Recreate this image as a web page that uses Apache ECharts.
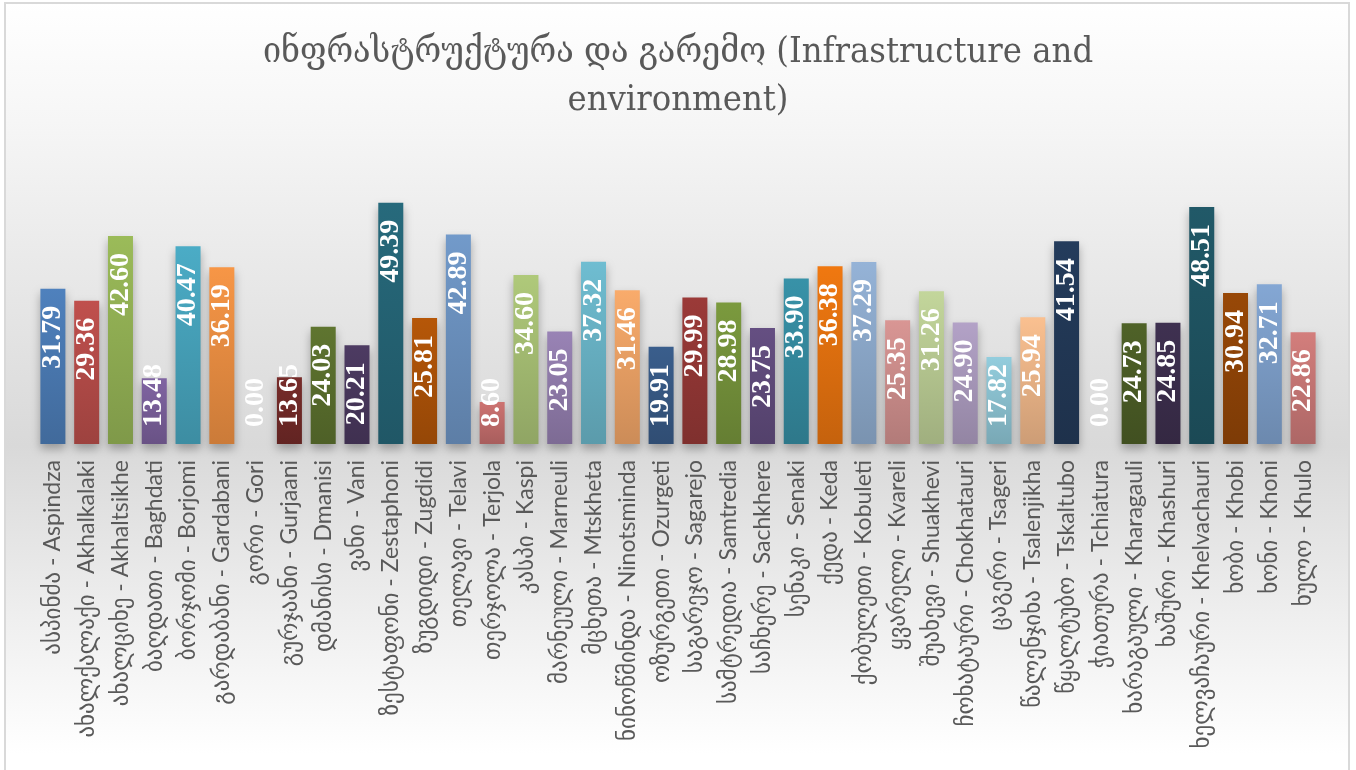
<!DOCTYPE html>
<html>
<head>
	<meta charset="utf-8" />
	<title>ინფრასტრუქტურა და გარემო</title>
	<script type="text/javascript" src="https://cdn.jsdelivr.net/npm/echarts@6/dist/echarts.min.js"></script>
	<style>
		html, body {margin:0;padding:0;background:#fff;}
		#chart {width:1356px;height:770px;}
	</style>
</head>
<body>
	<div id="chart"></div>
	<script>
		// მუნიციპალიტეტები
		var categories = [
			'ასპინძა - Aspindza', 'ახალქალაქი - Akhalkalaki', 'ახალციხე - Akhaltsikhe', 'ბაღდათი - Baghdati',
			'ბორჯომი - Borjomi', 'გარდაბანი - Gardabani', 'გორი - Gori', 'გურჯაანი - Gurjaani',
			'დმანისი - Dmanisi', 'ვანი - Vani', 'ზესტაფონი - Zestaphoni', 'ზუგდიდი - Zugdidi',
			'თელავი - Telavi', 'თერჯოლა - Terjola', 'კასპი - Kaspi', 'მარნეული - Marneuli',
			'მცხეთა - Mtskheta', 'ნინოწმინდა - Ninotsminda', 'ოზურგეთი - Ozurgeti', 'საგარეჯო - Sagarejo',
			'სამტრედია - Samtredia', 'საჩხერე - Sachkhere', 'სენაკი - Senaki', 'ქედა - Keda',
			'ქობულეთი - Kobuleti', 'ყვარელი - Kvareli', 'შუახევი - Shuakhevi', 'ჩოხატაური - Chokhatauri',
			'ცაგერი - Tsageri', 'წალენჯიხა - Tsalenjikha', 'წყალტუბო - Tskaltubo', 'ჭიათურა - Tchiatura',
			'ხარაგაული - Kharagauli', 'ხაშური - Khashuri', 'ხელვაჩაური - Khelvachauri', 'ხობი - Khobi',
			'ხონი - Khoni', 'ხულო - Khulo'
		];

		// ქულები
		var scores = [
			31.79, 29.36, 42.60, 13.48, 40.47, 36.19, 0.00, 13.65,
			24.03, 20.21, 49.39, 25.81, 42.89, 8.60, 34.60, 23.05,
			37.32, 31.46, 19.91, 29.99, 28.98, 23.75, 33.90, 36.38,
			37.29, 25.35, 31.26, 24.90, 17.82, 25.94, 41.54, 0.00,
			24.73, 24.85, 48.51, 30.94, 32.71, 22.86
		];

		// bar colours (vary by point)
		var barColors = [
			'#4F81BD', '#C0504D', '#9BBB59', '#8064A2', '#4BACC6', '#F79646', '#2C4D75', '#772C2A',
			'#5F7530', '#4D3B62', '#276A7C', '#B65708', '#729ACA', '#CD7371', '#AFC97A', '#9983B5',
			'#6FBDD1', '#F9AB6B', '#3A5E8C', '#9B3A38', '#7B9A3E', '#654F82', '#3892A8', '#F07810',
			'#95B3D7', '#D99694', '#C3D69B', '#B3A2C7', '#93CDDD', '#FAC090', '#243C5C', '#4F81BD',
			'#4F6228', '#3F3151', '#215968', '#984807', '#84A7D4', '#D37E7C'
		];

		function shade(hex, f) {
			var n = parseInt(hex.slice(1), 16);
			var r = Math.round(((n >> 16) & 255) * f);
			var g = Math.round(((n >> 8) & 255) * f);
			var b = Math.round((n & 255) * f);
			return 'rgb(' + r + ',' + g + ',' + b + ')';
		}

		var chart = echarts.init(document.getElementById('chart'));

		var seriesData = scores.map(function(v, i) {
			var c = barColors[i];
			var item = {
				value: v,
				itemStyle: {
					color: new echarts.graphic.LinearGradient(0, 0, 0, 1, [
						{offset: 0, color: c},
						{offset: 1, color: shade(c, 0.82)}
					])
				}
			};
			// short bars: label sits on the baseline
			if (v < 20) {
				item.label = {position: 'insideBottom', align: 'left', distance: 17};
			}
			return item;
		});

		var option = {
			animation: false,
			backgroundColor: '#fff',
			graphic: [
				{
					type: 'rect',
					z: -10,
					shape: {x: 5, y: 3, width: 1344, height: 790},
					style: {
						fill: new echarts.graphic.LinearGradient(0, 0, 0, 1, [
							{offset: 0, color: '#ffffff'},
							{offset: 0.15, color: '#f6f6f6'},
							{offset: 0.56, color: '#d9d9d9'},
							{offset: 0.78, color: '#efefef'},
							{offset: 0.95, color: '#ffffff'},
							{offset: 1, color: '#ffffff'}
						]),
						stroke: '#d9d9d9',
						lineWidth: 2
					}
				}
			],
			title: {
				text: 'ინფრასტრუქტურა და გარემო (Infrastructure and\nenvironment)',
				left: 'center',
				top: 24,
				textStyle: {
					fontFamily: '"DejaVu Serif Condensed", "DejaVu Serif", serif',
					fontWeight: 'normal',
					fontSize: 36,
					lineHeight: 48,
					color: '#595959'
				}
			},
			grid: {
				left: 36,
				right: 36,
				top: 151,
				bottom: 326,
				containLabel: false,
				outerBoundsMode: 'none'
			},
			xAxis: {
				type: 'category',
				data: categories,
				axisLine: {show: false},
				axisTick: {show: false},
				axisLabel: {
					rotate: 90,
					interval: 0,
					margin: 16,
					color: '#595959',
					fontSize: 23,
					fontFamily: 'Lato, "DejaVu Sans", sans-serif'
				}
			},
			yAxis: {
				type: 'value',
				min: 0,
				max: 60,
				show: false,
				splitLine: {show: false}
			},
			series: [
				{
					type: 'bar',
					barWidth: '74%',
					data: seriesData,
					itemStyle: {
						shadowColor: 'rgba(0,0,0,0.3)',
						shadowBlur: 10,
						shadowOffsetY: 5
					},
					label: {
						show: true,
						position: 'insideTop',
						rotate: 90,
						align: 'right',
						verticalAlign: 'middle',
						distance: 17,
						color: '#fff',
						fontFamily: '"Liberation Serif", serif',
						fontWeight: 'bold',
						fontSize: 28,
						formatter: function(p) {
							return p.value.toFixed(2);
						}
					}
				}
			]
		};

		chart.setOption(option);
	</script>
</body>
</html>
